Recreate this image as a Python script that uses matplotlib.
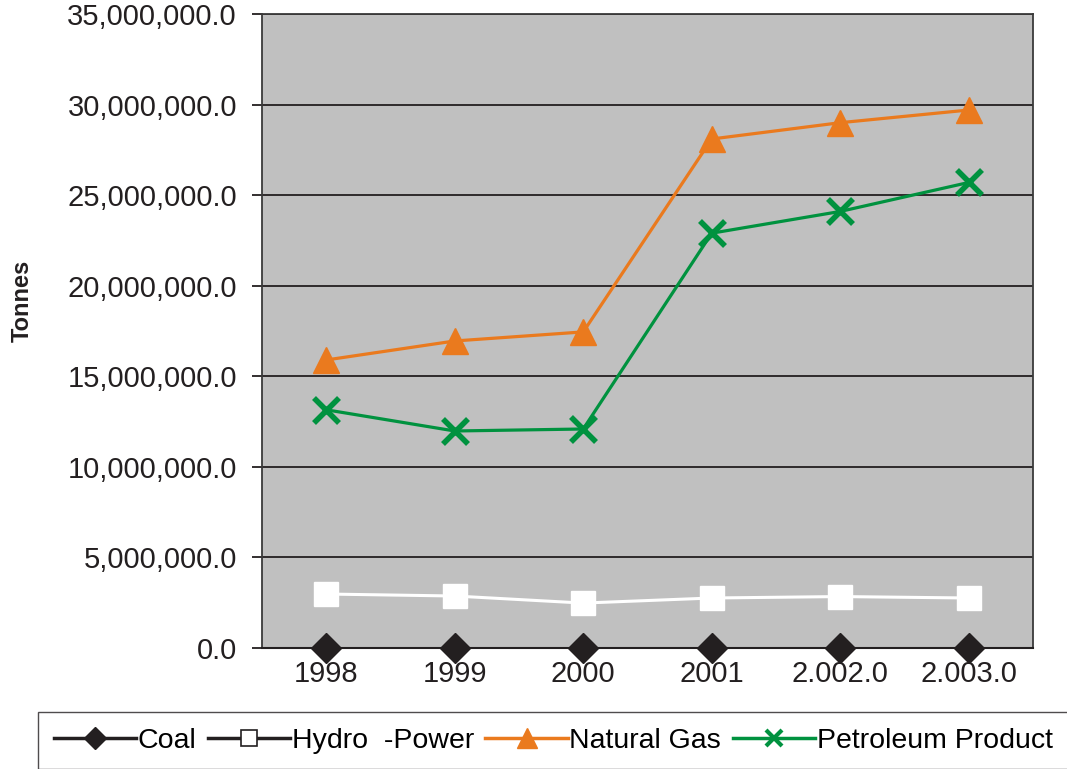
import matplotlib.pyplot as plt
from matplotlib.ticker import FuncFormatter

plt.rcParams['font.family'] = ['Liberation Sans', 'DejaVu Sans']

years = ['1998', '1999', '2000', '2001', '2.002.0', '2.003.0']
coal = [0, 0, 0, 0, 0, 0]
hydro = [2980000, 2870000, 2480000, 2760000, 2840000, 2760000]
natural_gas = [15900000, 16950000, 17450000, 28100000, 29000000, 29700000]
petroleum = [13150000, 11980000, 12090000, 22900000, 24100000, 25700000]

x = list(range(len(years)))

fig = plt.figure(figsize=(10.67, 7.69), dpi=100)
ax = fig.add_axes([262 / 1067, 1 - 648 / 769, 771 / 1067, 634 / 769])
ax.set_facecolor('#C0C0C0')

ax.plot(x, coal, color='#231F20', lw=2.5, marker='D', ms=15, mfc='#231F20',
        mec='#231F20', linestyle='none', clip_on=False, zorder=5)
ax.plot(x, hydro, color='white', lw=2.2, marker='s', ms=17, mfc='white',
        mec='white', zorder=4)
ax.plot(x, natural_gas, color='#EA7A1E', lw=2.3, marker='^', ms=19,
        mfc='#EA7A1E', mec='#EA7A1E', zorder=4)
ax.plot(x, petroleum, color='#00923F', lw=2.3, marker='x', ms=18, mew=4,
        mec='#00923F', zorder=4)

ax.set_xlim(-0.5, 5.5)
ax.set_ylim(0, 35000000)
ax.set_yticks(range(0, 35000001, 5000000))
ax.yaxis.set_major_formatter(FuncFormatter(lambda v, p: f'{v:,.1f}'))
ax.set_xticks(x)
ax.set_xticklabels(years)

ax.grid(axis='y', color='#231F20', lw=1.3)
ax.set_axisbelow(True)
for s in ['left', 'right', 'top']:
    ax.spines[s].set_color('#3a3a3a')
    ax.spines[s].set_linewidth(1.3)
ax.spines['bottom'].set_color('#231F20')
ax.spines['bottom'].set_linewidth(1.5)

ax.tick_params(axis='y', length=7, width=1.3, color='#231F20', pad=11,
               labelsize=21, labelcolor='#231F20')
ax.tick_params(axis='x', length=0, pad=9, labelsize=21, labelcolor='#231F20')

fig.text(22 / 1067, 1 - 301 / 769, 'Tonnes', rotation=90, ha='center',
         va='center', fontsize=17, fontweight='bold', color='#231F20')

h = [plt.Line2D([], [], color='#231F20', lw=2.5, marker='D', ms=11, mfc='#231F20'),
     plt.Line2D([], [], color='#231F20', lw=2.5, marker='s', ms=12, mfc='white',
                mec='#231F20', mew=1.2),
     plt.Line2D([], [], color='#EA7A1E', lw=2.5, marker='^', ms=14),
     plt.Line2D([], [], color='#00923F', lw=2.5, marker='x', ms=12, mew=3)]
labels = ['Coal', 'Hydro  -Power', 'Natural Gas', 'Petroleum Product']
leg = fig.legend(h, labels, loc='upper left', ncol=4,
                 bbox_to_anchor=(38 / 1067, 1 - 712 / 769),
                 borderaxespad=0, fontsize=20.5,
                 handlelength=2.9, handletextpad=0.05, columnspacing=0.4,
                 fancybox=False, frameon=True, borderpad=0.55)
leg.get_frame().set_edgecolor('#231F20')
leg.get_frame().set_linewidth(1.0)

fig.savefig('out.png', dpi=100)
